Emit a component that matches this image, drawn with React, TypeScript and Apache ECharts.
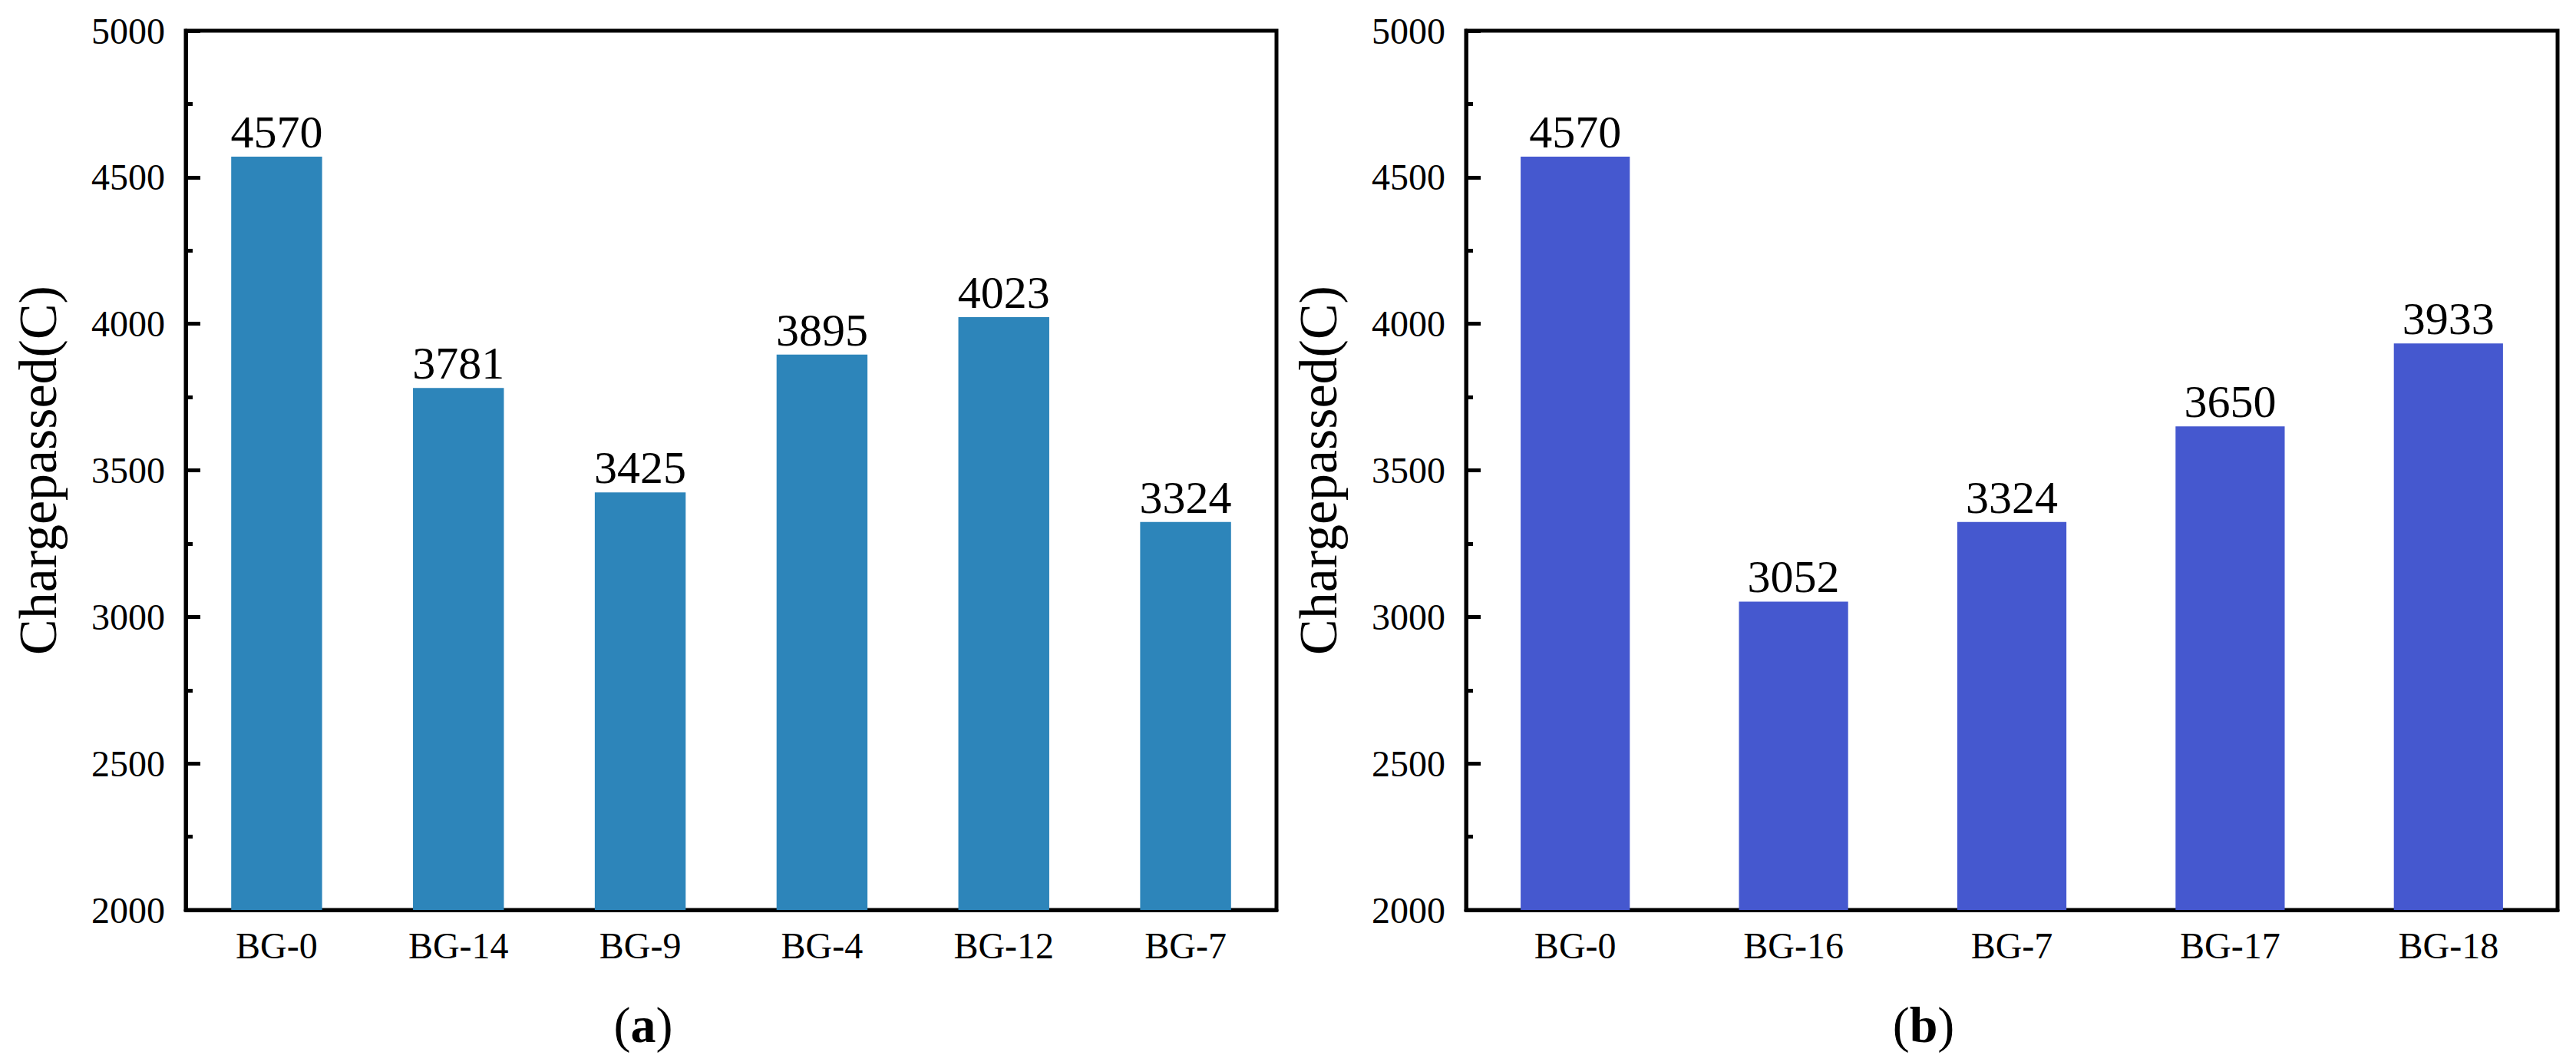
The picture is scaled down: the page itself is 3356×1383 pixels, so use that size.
import React, { useRef, useEffect } from 'react';
import * as echarts from 'echarts';

const catsA = ['BG-0', 'BG-14', 'BG-9', 'BG-4', 'BG-12', 'BG-7'];
const valsA = [4570, 3781, 3425, 3895, 4023, 3324];
const catsB = ['BG-0', 'BG-16', 'BG-7', 'BG-17', 'BG-18'];
const valsB = [4570, 3052, 3324, 3650, 3933];
const panelTags = ['a', 'b'];

const FONT = '"Liberation Serif", "Times New Roman", serif';
const BLACK = '#000';

const App = () => {
  const chartRef = useRef(null);

  useEffect(() => {
    const myChart = echarts.init(chartRef.current, null, { renderer: 'svg' });

    const grids = [
      { left: 242, top: 40, width: 1421, height: 1145 },
      { left: 1910, top: 40, width: 1422, height: 1145 },
    ];

    const xMain = (gridIndex, data) => ({
      type: 'category',
      gridIndex,
      data,
      position: 'bottom',
      axisLine: { lineStyle: { color: BLACK, width: 5 } },
      axisTick: { inside: true, alignWithLabel: true, length: 19, lineStyle: { color: BLACK, width: 5 } },
      axisLabel: { fontSize: 48, margin: 22, color: BLACK, fontFamily: FONT },
    });

    // second axis only for the small ticks between categories
    const xMinor = (gridIndex, data) => ({
      type: 'category',
      gridIndex,
      data,
      position: 'bottom',
      axisLine: { show: false },
      axisTick: { inside: true, length: 9, lineStyle: { color: BLACK, width: 5 } },
      axisLabel: { show: false },
    });

    const yAxis = (gridIndex) => ({
      type: 'value',
      gridIndex,
      min: 2000,
      max: 5000,
      interval: 500,
      name: 'Chargepassed(C)',
      nameLocation: 'middle',
      nameGap: 158,
      nameTextStyle: { fontSize: 70, color: BLACK, fontFamily: FONT },
      axisLine: { show: true, lineStyle: { color: BLACK, width: 5 } },
      axisTick: { show: true, inside: true, length: 19, lineStyle: { color: BLACK, width: 5 } },
      minorTick: { show: true, splitNumber: 2, length: 9, lineStyle: { color: BLACK, width: 5 } },
      splitLine: { show: false },
      axisLabel: {
        fontSize: 48,
        margin: 27,
        color: BLACK,
        fontFamily: FONT,
        formatter: (v) => String(v),
      },
    });

    const barSeries = (idx, data, color) => ({
      type: 'bar',
      xAxisIndex: idx * 2,
      yAxisIndex: idx,
      data,
      barWidth: '50%',
      itemStyle: { color },
      label: {
        show: true,
        position: 'top',
        distance: 2,
        fontSize: 60,
        color: BLACK,
        fontFamily: FONT,
      },
    });

    const tagX = [838, 2506];

    const option = {
      animation: false,
      grid: grids.map((g) => ({
        ...g,
        show: true,
        borderColor: BLACK,
        borderWidth: 5,
        backgroundColor: 'transparent',
      })),
      xAxis: [xMain(0, catsA), xMinor(0, catsA), xMain(1, catsB), xMinor(1, catsB)],
      yAxis: [yAxis(0), yAxis(1)],
      series: [barSeries(0, valsA, '#2D85BA'), barSeries(1, valsB, '#4558CF')],
      graphic: panelTags.map((t, i) => ({
        type: 'text',
        x: tagX[i],
        y: 1334,
        style: {
          text: '{p|(}{b|' + t + '}{p|)}',
          align: 'center',
          verticalAlign: 'middle',
          rich: {
            p: { fontSize: 66, fontFamily: FONT, fill: BLACK },
            b: { fontSize: 66, fontFamily: FONT, fontWeight: 'bold', fill: BLACK },
          },
        },
      })),
    };

    myChart.setOption(option);

    return () => {
      myChart.dispose();
    };
  }, []);

  return (
    <div
      ref={chartRef}
      style={{ position: 'absolute', left: 0, top: 0, width: '3356px', height: '1383px', background: '#fff' }}
    />
  );
};

export default App;
